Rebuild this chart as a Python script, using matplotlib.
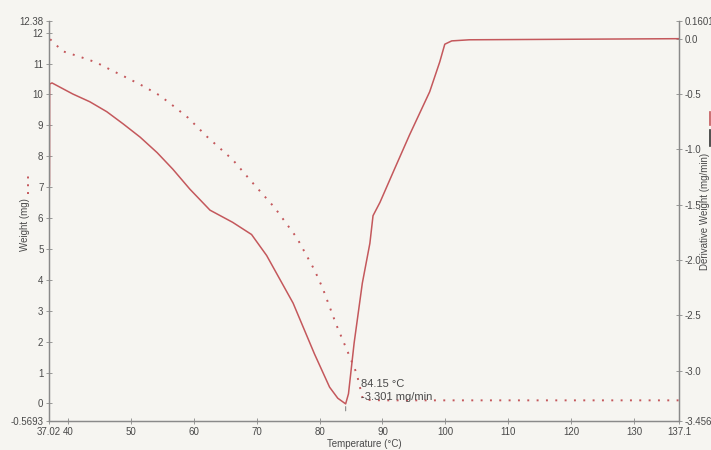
import matplotlib
matplotlib.use('Agg')
import matplotlib.pyplot as plt
from matplotlib.lines import Line2D

plt.rcParams['font.family'] = ['Liberation Sans', 'DejaVu Sans']

# Weight curve (left axis, mg) - dotted
weight_temp = [37.2, 39.2, 41.8, 44.5, 47.0, 49.6, 52.1, 54.6, 56.9, 59.1, 62.1,
               66.2, 69.2, 72.9, 76.4, 79.2, 80.5, 82.7, 84.5, 85.9, 86.9, 90.0,
               137.1]
weight_mg = [11.79, 11.40, 11.23, 11.04, 10.78, 10.52, 10.26, 9.97, 9.61, 9.25, 8.64,
             7.89, 7.18, 6.33, 5.36, 4.32, 3.73, 2.53, 1.66, 0.97, 0.12, 0.10,
             0.10]

# Derivative weight curve (right axis, mg/min) - solid
deriv_temp = [37.10, 37.12, 37.5, 40.8, 43.5, 46.2, 48.8, 51.5, 54.2, 56.7, 59.4,
              62.6, 66.2, 69.2, 71.6, 75.8, 79.2, 81.6, 82.9, 84.15, 84.6, 85.5,
              86.8, 88.0, 88.5, 89.6, 91.9, 94.3, 97.5, 99.1, 99.9, 101.0, 103.8,
              137.1]
deriv_val = [-1.32, -0.41, -0.40, -0.50, -0.57, -0.66, -0.77, -0.89, -1.03, -1.18, -1.36,
             -1.55, -1.66, -1.77, -1.96, -2.39, -2.85, -3.15, -3.25, -3.301, -3.21, -2.75,
             -2.21, -1.85, -1.60, -1.48, -1.18, -0.87, -0.48, -0.21, -0.05, -0.02, -0.01,
             0.0]

x_ticks = [37.02, 40, 50, 60, 70, 80, 90, 100, 110, 120, 130, 137.1]
x_labels = ['37.02', '40', '50', '60', '70', '80', '90', '100', '110', '120', '130', '137.1']
left_ticks = [-0.5693, 0, 1, 2, 3, 4, 5, 6, 7, 8, 9, 10, 11, 12, 12.38]
left_labels = ['-0.5693', '0', '1', '2', '3', '4', '5', '6', '7', '8', '9', '10', '11', '12', '12.38']
right_ticks = [-3.456, -3.0, -2.5, -2.0, -1.5, -1.0, -0.5, 0.0, 0.1601]
right_labels = ['-3.456', '-3.0', '-2.5', '-2.0', '-1.5', '-1.0', '-0.5', '0.0', '0.1601']

bg = '#f6f5f1'
line_col = '#c4585c'
axis_col = '#8a8a8a'
text_col = '#4a4a4a'

fig = plt.figure(figsize=(7.11, 4.5), dpi=100, facecolor=bg)
ax = fig.add_axes([0.0689, 0.0644, 0.886, 0.889])
ax.set_facecolor(bg)
ax2 = ax.twinx()

ax.plot(weight_temp, weight_mg, color=line_col, lw=1.4, linestyle=(0, (1, 3.8)))
ax2.plot(deriv_temp, deriv_val, color=line_col, lw=1.1)

ax.set_xlim(37.02, 137.1)
ax.set_ylim(-0.5693, 12.38)
ax2.set_ylim(-3.456, 0.1601)

ax.set_xticks(x_ticks)
ax.set_xticklabels(x_labels)
ax.set_yticks(left_ticks)
ax.set_yticklabels(left_labels)
ax2.set_yticks(right_ticks)
ax2.set_yticklabels(right_labels)

for a in (ax, ax2):
    a.spines['top'].set_visible(False)
    for s in a.spines.values():
        s.set_color(axis_col)
        s.set_linewidth(0.9)
    a.tick_params(direction='inout', length=4, width=0.6, color=axis_col,
                  labelsize=7, labelcolor=text_col, pad=2)

ax.set_xlabel('Temperature (°C)', fontsize=7, color=text_col, labelpad=2)
ax.set_ylabel('Weight (mg)', fontsize=7, color=text_col)
ax.yaxis.set_label_coords(-0.03, 0.49)
fig.text(0.992, 0.53, 'Derivative Weight (mg/min)', rotation=90, fontsize=7,
         color=text_col, ha='center', va='center')

# legend samples next to axis titles
fig.add_artist(Line2D([0.040, 0.040], [0.57, 0.615], color=line_col, lw=1.4,
                      linestyle=(0, (1, 3))))
fig.add_artist(Line2D([0.998, 0.998], [0.722, 0.751], color=line_col, lw=1.2))
fig.add_artist(Line2D([0.998, 0.998], [0.676, 0.711], color='#333333', lw=1.2))

# peak annotation
ax2.annotate('', xy=(84.15, -3.301), xytext=(0, -7), textcoords='offset points',
             arrowprops=dict(arrowstyle='-', color=axis_col, lw=0.8))
ax2.annotate('84.15 °C\n-3.301 mg/min', xy=(84.15, -3.301), xytext=(15, 2),
             textcoords='offset pixels', fontsize=8, color=text_col,
             ha='left', va='bottom', linespacing=1.3)

fig.savefig('out.png', dpi=100, facecolor=bg)
